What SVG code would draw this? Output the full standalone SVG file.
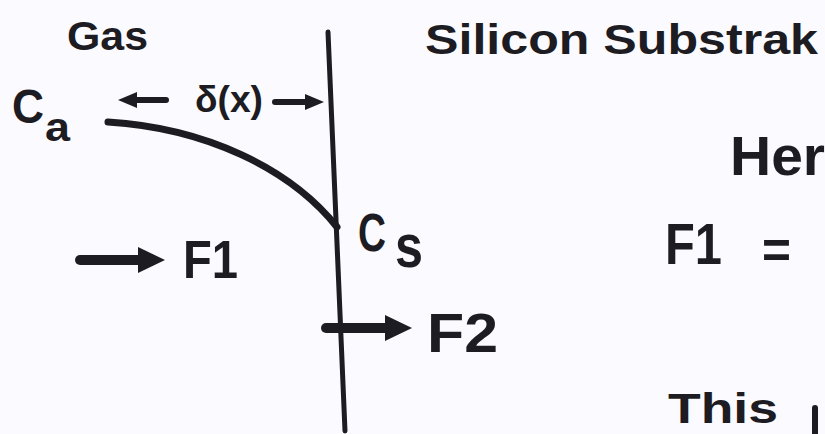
<svg xmlns="http://www.w3.org/2000/svg" width="825" height="434" viewBox="0 0 825 434">
<defs>
<style>
.t{font-family:"Liberation Sans","DejaVu Sans",sans-serif;font-weight:bold;fill:#1c1c22;}
.ln{stroke:#1c1c22;fill:none;stroke-linecap:round;}
</style>
<marker id="headBig" markerUnits="userSpaceOnUse" markerWidth="28" markerHeight="28" refX="1" refY="14" orient="auto" overflow="visible">
<path d="M0,1 L27,14 L0,27 z" fill="#1c1c22"/>
</marker>
<marker id="headSmall" markerUnits="userSpaceOnUse" markerWidth="20" markerHeight="16" refX="1" refY="8" orient="auto" overflow="visible">
<path d="M0,0 L19,8 L0,16 z" fill="#1c1c22"/>
</marker>
</defs>
<rect width="825" height="434" fill="#fbfafe"/>

<g id="interface">
<path class="ln" d="M328,32 L345,431" stroke-width="5"/>
</g>

<g id="profile">
<path class="ln" d="M108,122 C205,128 290,168 337,227" stroke-width="7"/>
</g>

<g id="connectors">
<line class="ln" x1="166" y1="100" x2="136" y2="100" stroke-width="6" marker-end="url(#headSmall)"/>
<line class="ln" x1="275" y1="102" x2="306" y2="102" stroke-width="6" marker-end="url(#headSmall)"/>
<line class="ln" x1="80" y1="260" x2="139" y2="260" stroke-width="10" stroke-linecap="butt" marker-end="url(#headBig)"/>
<line class="ln" x1="326" y1="328" x2="386" y2="328" stroke-width="10" stroke-linecap="butt" marker-end="url(#headBig)"/>
</g>

<g id="label-gas"><text class="t" x="67" y="50" font-size="40" textLength="81" lengthAdjust="spacingAndGlyphs">Gas</text></g>
<g id="label-substrate"><text class="t" x="425" y="54" font-size="42" textLength="393" lengthAdjust="spacingAndGlyphs">Silicon Substrak</text></g>
<g id="label-ca"><text class="t" x="12" y="123" font-size="48" textLength="32" lengthAdjust="spacingAndGlyphs">C</text><text class="t" x="45" y="141" font-size="40" textLength="25" lengthAdjust="spacingAndGlyphs">a</text></g>
<g id="label-delta"><text class="t" x="195" y="112" font-size="36" textLength="68" lengthAdjust="spacingAndGlyphs">δ(x)</text></g>
<g id="label-cs"><text class="t" x="358" y="251" font-size="54" textLength="28" lengthAdjust="spacingAndGlyphs">C</text><text class="t" x="395" y="267" font-size="62" textLength="28" lengthAdjust="spacingAndGlyphs">s</text></g>
<g id="label-f1"><text class="t" x="183" y="278" font-size="54" textLength="55" lengthAdjust="spacingAndGlyphs">F1</text></g>
<g id="label-f2"><text class="t" x="427" y="352" font-size="56" textLength="71" lengthAdjust="spacingAndGlyphs">F2</text></g>
<g id="label-her"><text class="t" x="730" y="175" font-size="55" textLength="95" lengthAdjust="spacingAndGlyphs">Her</text></g>
<g id="label-f1eq"><text class="t" x="665" y="264" font-size="58" textLength="57" lengthAdjust="spacingAndGlyphs">F1</text><text class="t" x="762" y="268" font-size="54" textLength="29" lengthAdjust="spacingAndGlyphs">=</text></g>
<g id="label-this"><text class="t" x="668" y="423" font-size="42" textLength="110" lengthAdjust="spacingAndGlyphs">This</text><path class="ln" d="M815,408 L815,434" stroke-width="6"/></g>
</svg>
